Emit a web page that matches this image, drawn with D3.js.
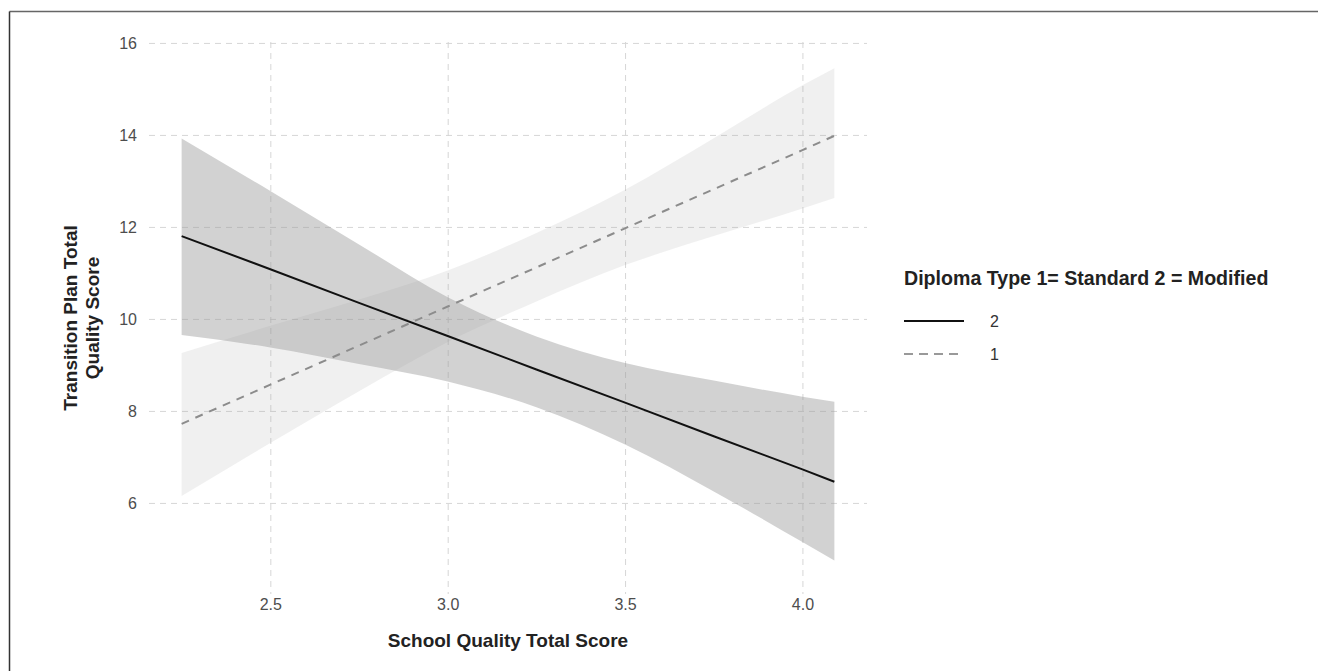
<!DOCTYPE html>
<html>
<head>
<meta charset="utf-8">
<script src="https://cdn.jsdelivr.net/npm/d3@7"></script>
<style>
  body { margin: 0; background: #fff; }
  svg { display: block; font-family: "Liberation Sans", Arial, sans-serif; }
</style>
</head>
<body>
<div id="wrapper"></div>
<script>
// School quality score (x) at which the fitted values were read
const xs = [2.25, 2.5, 2.75, 3.0, 3.25, 3.5, 3.75, 4.0, 4.09];

// Diploma type 2 (modified): fit and confidence band
const fit2   = [11.80, 11.08, 10.35, 9.63, 8.90, 8.18, 7.45, 6.73, 6.46];
const upper2 = [13.92, 12.78, 11.62, 10.47, 9.62, 9.04, 8.66, 8.31, 8.20];
const lower2 = [9.65, 9.38, 9.02, 8.64, 8.08, 7.27, 6.25, 5.15, 4.75];

// Diploma type 1 (standard): fit and confidence band
const fit1   = [7.72, 8.57, 9.42, 10.27, 11.12, 11.97, 12.82, 13.67, 13.98];
const upper1 = [9.26, 9.85, 10.42, 11.05, 11.87, 12.81, 13.93, 15.08, 15.45];
const lower1 = [6.15, 7.30, 8.43, 9.50, 10.38, 11.17, 11.80, 12.40, 12.63];

const xTicks = [2.5, 3.0, 3.5, 4.0];
const yTicks = [6, 8, 10, 12, 14, 16];
const legendLabels = ['2', '1'];

const width = 1318, height = 671;

const svg = d3.select('#wrapper')
    .append('svg')
    .attr('width', width)
    .attr('height', height);

// outer frame (only left and top edges fall inside the picture)
svg.append('line').attr('x1', 9.5).attr('x2', width).attr('y1', 11.5).attr('y2', 11.5)
    .attr('stroke', '#666').attr('stroke-width', 1.5);
svg.append('line').attr('x1', 9.5).attr('x2', 9.5).attr('y1', 11.5).attr('y2', height)
    .attr('stroke', '#333').attr('stroke-width', 1.5);

const xScale = d3.scaleLinear()
    .domain([2.158, 4.182])
    .range([149, 867]);

const yScale = d3.scaleLinear()
    .domain([4.02, 16.02])
    .range([594, 42]);

// grid
const grid = svg.append('g').attr('stroke', '#d6d6d6').attr('stroke-width', 1)
    .attr('stroke-dasharray', '6,5').attr('fill', 'none');
grid.selectAll('.gy').data(yTicks).join('line')
    .attr('x1', xScale.range()[0]).attr('x2', xScale.range()[1])
    .attr('y1', d => yScale(d) + 0.5).attr('y2', d => yScale(d) + 0.5);
grid.selectAll('.gx').data(xTicks).join('line')
    .attr('x1', d => xScale(d) + 0.5).attr('x2', d => xScale(d) + 0.5)
    .attr('y1', yScale.range()[1]).attr('y2', yScale.range()[0]);

const idx = d3.range(xs.length);

const area = (lo, hi) => d3.area()
    .x(i => xScale(xs[i]))
    .y0(i => yScale(lo[i]))
    .y1(i => yScale(hi[i]))
    .curve(d3.curveMonotoneX);

const line = vals => d3.line()
    .x(i => xScale(xs[i]))
    .y(i => yScale(vals[i]));

svg.append('path')
    .attr('d', area(lower1, upper1)(idx))
    .attr('fill', '#999').attr('fill-opacity', 0.15);

svg.append('path')
    .attr('d', area(lower2, upper2)(idx))
    .attr('fill', '#999').attr('fill-opacity', 0.44);

svg.append('path')
    .attr('d', line(fit1)(idx))
    .attr('fill', 'none')
    .attr('stroke', '#8c8c8c')
    .attr('stroke-width', 2)
    .attr('stroke-dasharray', '8,7');

svg.append('path')
    .attr('d', line(fit2)(idx))
    .attr('fill', 'none')
    .attr('stroke', '#111')
    .attr('stroke-width', 2);

// axes
const xAxis = svg.append('g')
    .attr('transform', `translate(0, ${yScale.range()[0]})`)
    .call(d3.axisBottom(xScale).tickValues(xTicks).tickFormat(d3.format('.1f')).tickSize(0).tickPadding(5));
const yAxis = svg.append('g')
    .attr('transform', `translate(${xScale.range()[0]}, 0)`)
    .call(d3.axisLeft(yScale).tickValues(yTicks).tickSize(0).tickPadding(12));

[xAxis, yAxis].forEach(a => {
    a.select('.domain').remove();
    a.selectAll('text')
        .attr('fill', '#4d4d4d')
        .style('font-size', '16px')
        .style('font-family', '"Liberation Sans", Arial, sans-serif');
});

// axis titles
svg.append('text')
    .attr('x', (xScale.range()[0] + xScale.range()[1]) / 2)
    .attr('y', 647)
    .attr('text-anchor', 'middle')
    .attr('font-size', 19)
    .attr('font-weight', 'bold')
    .attr('fill', '#222')
    .text('School Quality Total Score');

const yTitle = svg.append('text')
    .attr('transform', `translate(0, ${(yScale.range()[0] + yScale.range()[1]) / 2}) rotate(-90)`)
    .attr('text-anchor', 'middle')
    .attr('font-size', 19)
    .attr('font-weight', 'bold')
    .attr('fill', '#222');
yTitle.append('tspan').attr('x', 0).attr('y', 77).text('Transition Plan Total');
yTitle.append('tspan').attr('x', 0).attr('y', 99).text('Quality Score');

// legend
const legend = svg.append('g').attr('transform', 'translate(904, 0)');
legend.append('text')
    .attr('x', 0).attr('y', 285)
    .attr('font-size', 19.6)
    .attr('font-weight', 'bold')
    .attr('fill', '#222')
    .text('Diploma Type 1= Standard 2 = Modified');

const keyStyles = [
    { stroke: '#111', dash: null },
    { stroke: '#999', dash: '9,6' }
];
const keys = legend.selectAll('.key').data(legendLabels).join('g')
    .attr('transform', (d, i) => `translate(0, ${321 + i * 33})`);
keys.append('line')
    .attr('x1', 0).attr('x2', 60)
    .attr('stroke', (d, i) => keyStyles[i].stroke)
    .attr('stroke-width', 2)
    .attr('stroke-dasharray', (d, i) => keyStyles[i].dash);
keys.append('text')
    .attr('x', 86).attr('y', 0).attr('dy', '0.36em')
    .attr('font-size', 16)
    .attr('fill', '#333')
    .text(d => d);
</script>
</body>
</html>
